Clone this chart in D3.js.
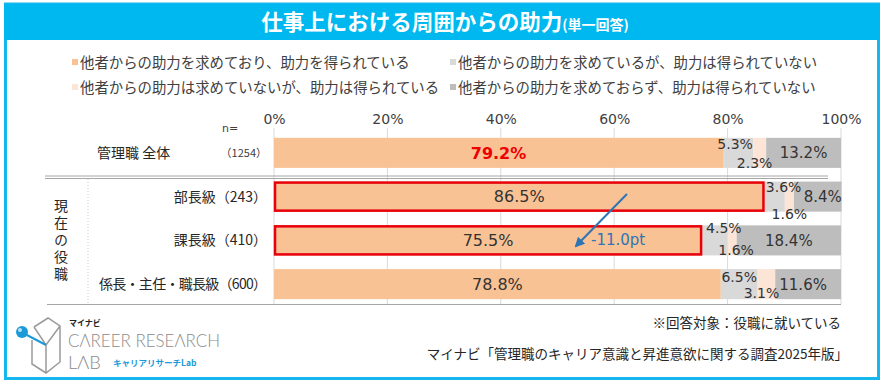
<!DOCTYPE html>
<html>
<head>
<meta charset="utf-8">
<script src="https://cdn.jsdelivr.net/npm/d3@7"></script>
<style>
  body { margin: 0; background: #fff; }
  svg { display: block; }
</style>
</head>
<body>
<div id="chart"></div>
<script>
const width = 885;
const height = 383;

// data
const rows = ["管理職 全体", "部長級（243）", "課長級（410）", "係長・主任・職長級（600）"];
const sampleSizes = ["（1254）", "", "", ""];
const seriesNames = [
  "他者からの助力を求めており、助力を得られている",
  "他者からの助力を求めているが、助力は得られていない",
  "他者からの助力は求めていないが、助力は得られている",
  "他者からの助力を求めておらず、助力は得られていない"
];
const gotHelp = [79.2, 86.5, 75.5, 78.8];
const askedNoHelp = [5.3, 3.6, 4.5, 6.5];
const notAskedGotHelp = [2.3, 1.6, 1.6, 3.1];
const notAskedNoHelp = [13.2, 8.4, 18.4, 11.6];
const ticks = [0, 20, 40, 60, 80, 100];

const colors = ["#F9C294", "#D9D9D9", "#FCE4D6", "#BDBDBD"];
const jp = "'Noto Sans CJK JP', 'Noto Sans', sans-serif";
const num = "'DejaVu Sans', sans-serif";
const textColor = "#404040";

const svg = d3.select("#chart").append("svg")
  .attr("width", width)
  .attr("height", height);

svg.append("defs").append("marker")
  .attr("id", "arrow")
  .attr("viewBox", "0 0 10 10")
  .attr("refX", 8).attr("refY", 5)
  .attr("markerWidth", 5).attr("markerHeight", 5)
  .attr("orient", "auto")
  .append("path")
  .attr("d", "M0,0 L10,5 L0,10 z")
  .attr("fill", "#2E75B6");

// frame + title bar
svg.append("rect").attr("x", 5.5).attr("y", 4).attr("width", 873).attr("height", 374.5)
  .attr("fill", "#fff").attr("stroke", "#14B8EE").attr("stroke-width", 3);
svg.append("rect").attr("x", 4).attr("y", 4).attr("width", 876).attr("height", 36)
  .attr("fill", "#00B8F0");

const title = svg.append("text")
  .attr("x", 445).attr("y", 30)
  .attr("text-anchor", "middle")
  .attr("fill", "#fff")
  .style("font-family", jp)
  .style("font-weight", "bold");
title.append("tspan").style("font-size", "21.5px").text("仕事上における周囲からの助力");
title.append("tspan").style("font-size", "14px").text("(単一回答)");

// legend
const legendPos = [[72, 68], [450, 68], [72, 93], [450, 93]];
const legend = svg.append("g").selectAll("g")
  .data(seriesNames)
  .join("g")
  .attr("transform", (d, i) => `translate(${legendPos[i][0]},${legendPos[i][1]})`);
legend.append("rect")
  .attr("x", 0).attr("y", -9).attr("width", 6).attr("height", 6)
  .attr("fill", (d, i) => colors[i]);
legend.append("text")
  .attr("x", 8).attr("y", 0)
  .attr("fill", textColor)
  .style("font-family", jp)
  .style("font-size", "14.4px")
  .text(d => d);

// scales
const x = d3.scaleLinear().domain([0, 100]).range([274, 841]);
const y = d3.scaleBand().domain(rows).range([131, 306]).paddingInner(0.313).paddingOuter(0.156);

// grid
svg.append("g").selectAll("line")
  .data(ticks)
  .join("line")
  .attr("x1", d => x(d)).attr("x2", d => x(d))
  .attr("y1", 128).attr("y2", 304)
  .attr("stroke", "#D9D9D9").attr("stroke-width", 1);

// axis labels
const axis = d3.axisTop(x).tickValues(ticks).tickFormat(d => d + "%").tickSize(0);
const axisG = svg.append("g").attr("transform", "translate(0,119)").call(axis);
axisG.select(".domain").remove();
axisG.selectAll("text")
  .attr("fill", textColor)
  .attr("dy", "0.35em")
  .attr("y", 0)
  .style("font-family", num)
  .style("font-size", "14px");

svg.append("text").attr("x", 222).attr("y", 132)
  .attr("fill", textColor).style("font-family", num).style("font-size", "11px").text("n=");

// stacked bars
const table = rows.map((r, i) => ({
  row: r,
  s0: gotHelp[i], s1: askedNoHelp[i], s2: notAskedGotHelp[i], s3: notAskedNoHelp[i]
}));
const keys = ["s0", "s1", "s2", "s3"];
const stacked = d3.stack().keys(keys)(table);

const layer = svg.append("g").selectAll("g")
  .data(stacked)
  .join("g")
  .attr("fill", (d, i) => colors[i]);
layer.selectAll("rect")
  .data(d => d)
  .join("rect")
  .attr("x", d => x(d[0]))
  .attr("y", d => y(d.data.row))
  .attr("width", d => x(d[1]) - x(d[0]))
  .attr("height", y.bandwidth());

// value labels: small segments are nudged off the bar centre like the original
const nudgeX = [[0, 0, 0, 0], [-3, 9, 9, 0], [-5, 0, 4, -5], [0, 5, 0, -5]];
const nudgeY = [[0, 0, 0, 0], [-9, -10, -12, -7], [10, 17, 10, 9], [0, 0, 0, 0]];
const labelSize = ["16px", "14px", "14px", "15px"];
stacked.forEach((s, si) => {
  svg.append("g").selectAll("text")
    .data(s)
    .join("text")
    .attr("x", (d, i) => (x(d[0]) + x(d[1])) / 2 + nudgeX[si][i])
    .attr("y", (d, i) => y(d.data.row) + y.bandwidth() / 2 + nudgeY[si][i])
    .attr("dy", "0.36em")
    .attr("text-anchor", "middle")
    .attr("fill", (d, i) => (si === 0 && i === 0) ? "#EE0000" : "#333")
    .style("font-weight", (d, i) => (si === 0 && i === 0) ? "bold" : "normal")
    .style("font-family", num)
    .style("font-size", labelSize[si])
    .text(d => d3.format(".1f")(d[1] - d[0]) + "%");
});

// red highlight boxes
svg.append("g").selectAll("rect")
  .data([1, 2])
  .join("rect")
  .attr("x", x(0) + 1)
  .attr("y", i => y(rows[i]) + 1)
  .attr("width", i => x(gotHelp[i]) - x(0) - 2)
  .attr("height", y.bandwidth() - 2)
  .attr("fill", "none")
  .attr("stroke", "#E8000B")
  .attr("stroke-width", 2.5);

// arrow
svg.append("line")
  .attr("x1", 627).attr("y1", 194)
  .attr("x2", 576).attr("y2", 246)
  .attr("stroke", "#2E75B6").attr("stroke-width", 2)
  .attr("marker-end", "url(#arrow)");
svg.append("text")
  .attr("x", 591).attr("y", 245)
  .attr("fill", "#2E75B6")
  .style("font-family", num)
  .style("font-size", "15px")
  .text("-11.0pt");

// row labels
svg.append("text")
  .attr("x", 97).attr("y", y(rows[0]) + y.bandwidth() / 2)
  .attr("dy", "0.35em")
  .attr("fill", "#262626")
  .style("font-family", jp).style("font-size", "14px")
  .text(rows[0]);
svg.append("text")
  .attr("x", 267).attr("y", y(rows[0]) + y.bandwidth() / 2)
  .attr("dy", "0.35em")
  .attr("text-anchor", "end")
  .attr("fill", textColor)
  .style("font-family", jp).style("font-size", "11px")
  .text(sampleSizes[0]);
svg.append("g").selectAll("text")
  .data(rows.slice(1))
  .join("text")
  .attr("x", 267)
  .attr("y", d => y(d) + y.bandwidth() / 2)
  .attr("dy", "0.35em")
  .attr("text-anchor", "end")
  .attr("fill", "#262626")
  .style("font-family", jp).style("font-size", "14px")
  .attr("textLength", (d, i) => i === 2 ? 168 : null)
  .text(d => d);

// group label (vertical, one text)
svg.append("text")
  .attr("x", 61)
  .attr("y", 199)
  .attr("fill", "#262626")
  .style("font-family", jp).style("font-size", "14px")
  .style("writing-mode", "vertical-rl")
  .style("letter-spacing", "3px")
  .text("現在の役職");

// separators
[176, 178.5].forEach(yy => {
  svg.append("line").attr("x1", 45).attr("x2", 828).attr("y1", yy).attr("y2", yy)
    .attr("stroke", "#A6A6A6").attr("stroke-width", 1);
});
svg.append("line").attr("x1", 88).attr("x2", 88).attr("y1", 179).attr("y2", 304)
  .attr("stroke", "#C8C8C8").attr("stroke-width", 1).attr("stroke-dasharray", "1,2");
svg.append("line").attr("x1", 47).attr("x2", 841).attr("y1", 304.5).attr("y2", 304.5)
  .attr("stroke", "#A6A6A6").attr("stroke-width", 1);

// notes
svg.append("text").attr("x", 841).attr("y", 328)
  .attr("text-anchor", "end").attr("fill", "#262626")
  .style("font-family", jp).style("font-size", "13.5px")
  .text("※回答対象：役職に就いている");
svg.append("text").attr("x", 848).attr("y", 359)
  .attr("text-anchor", "end").attr("fill", "#262626")
  .style("font-family", jp).style("font-size", "13.5px")
  .text("マイナビ「管理職のキャリア意識と昇進意欲に関する調査2025年版」");

// logo
const logo = svg.append("g");
logo.append("path")
  .attr("d", "M34,327 L48,318 L60,326 L60,362 L46,373 L32,364 L32,340 M34,327 L46,345 L60,326 M46,345 L46,373")
  .attr("fill", "none").attr("stroke", "#9A9A9A").attr("stroke-width", 1.5);
logo.append("line").attr("x1", 23).attr("y1", 333).attr("x2", 46).attr("y2", 345)
  .attr("stroke", "#1A9BD7").attr("stroke-width", 2);
logo.append("circle").attr("cx", 22).attr("cy", 332).attr("r", 6).attr("fill", "#1A9BD7");
logo.append("circle").attr("cx", 20).attr("cy", 330).attr("r", 2).attr("fill", "#fff").attr("opacity", 0.7);
logo.append("text").attr("x", 69).attr("y", 326)
  .attr("fill", "#222").style("font-family", jp).style("font-weight", "bold").style("font-size", "8px")
  .text("マイナビ");
const logoText = logo.append("g")
  .attr("fill", "#8C8C8C").style("font-family", "Lato, sans-serif").style("font-weight", 300).style("font-size", "17px");
logoText.append("text").attr("x", 68).attr("y", 347)
  .attr("textLength", 152).attr("lengthAdjust", "spacingAndGlyphs")
  .text("CΛREER RESEΛRCH");
logoText.append("text").attr("x", 68).attr("y", 369)
  .attr("textLength", 33).attr("lengthAdjust", "spacingAndGlyphs")
  .text("LΛB");
logo.append("text").attr("x", 113).attr("y", 366)
  .attr("fill", "#1A9BD7").style("font-family", jp).style("font-weight", "bold").style("font-size", "8.5px")
  .text("キャリアリサーチLab");
</script>
</body>
</html>
